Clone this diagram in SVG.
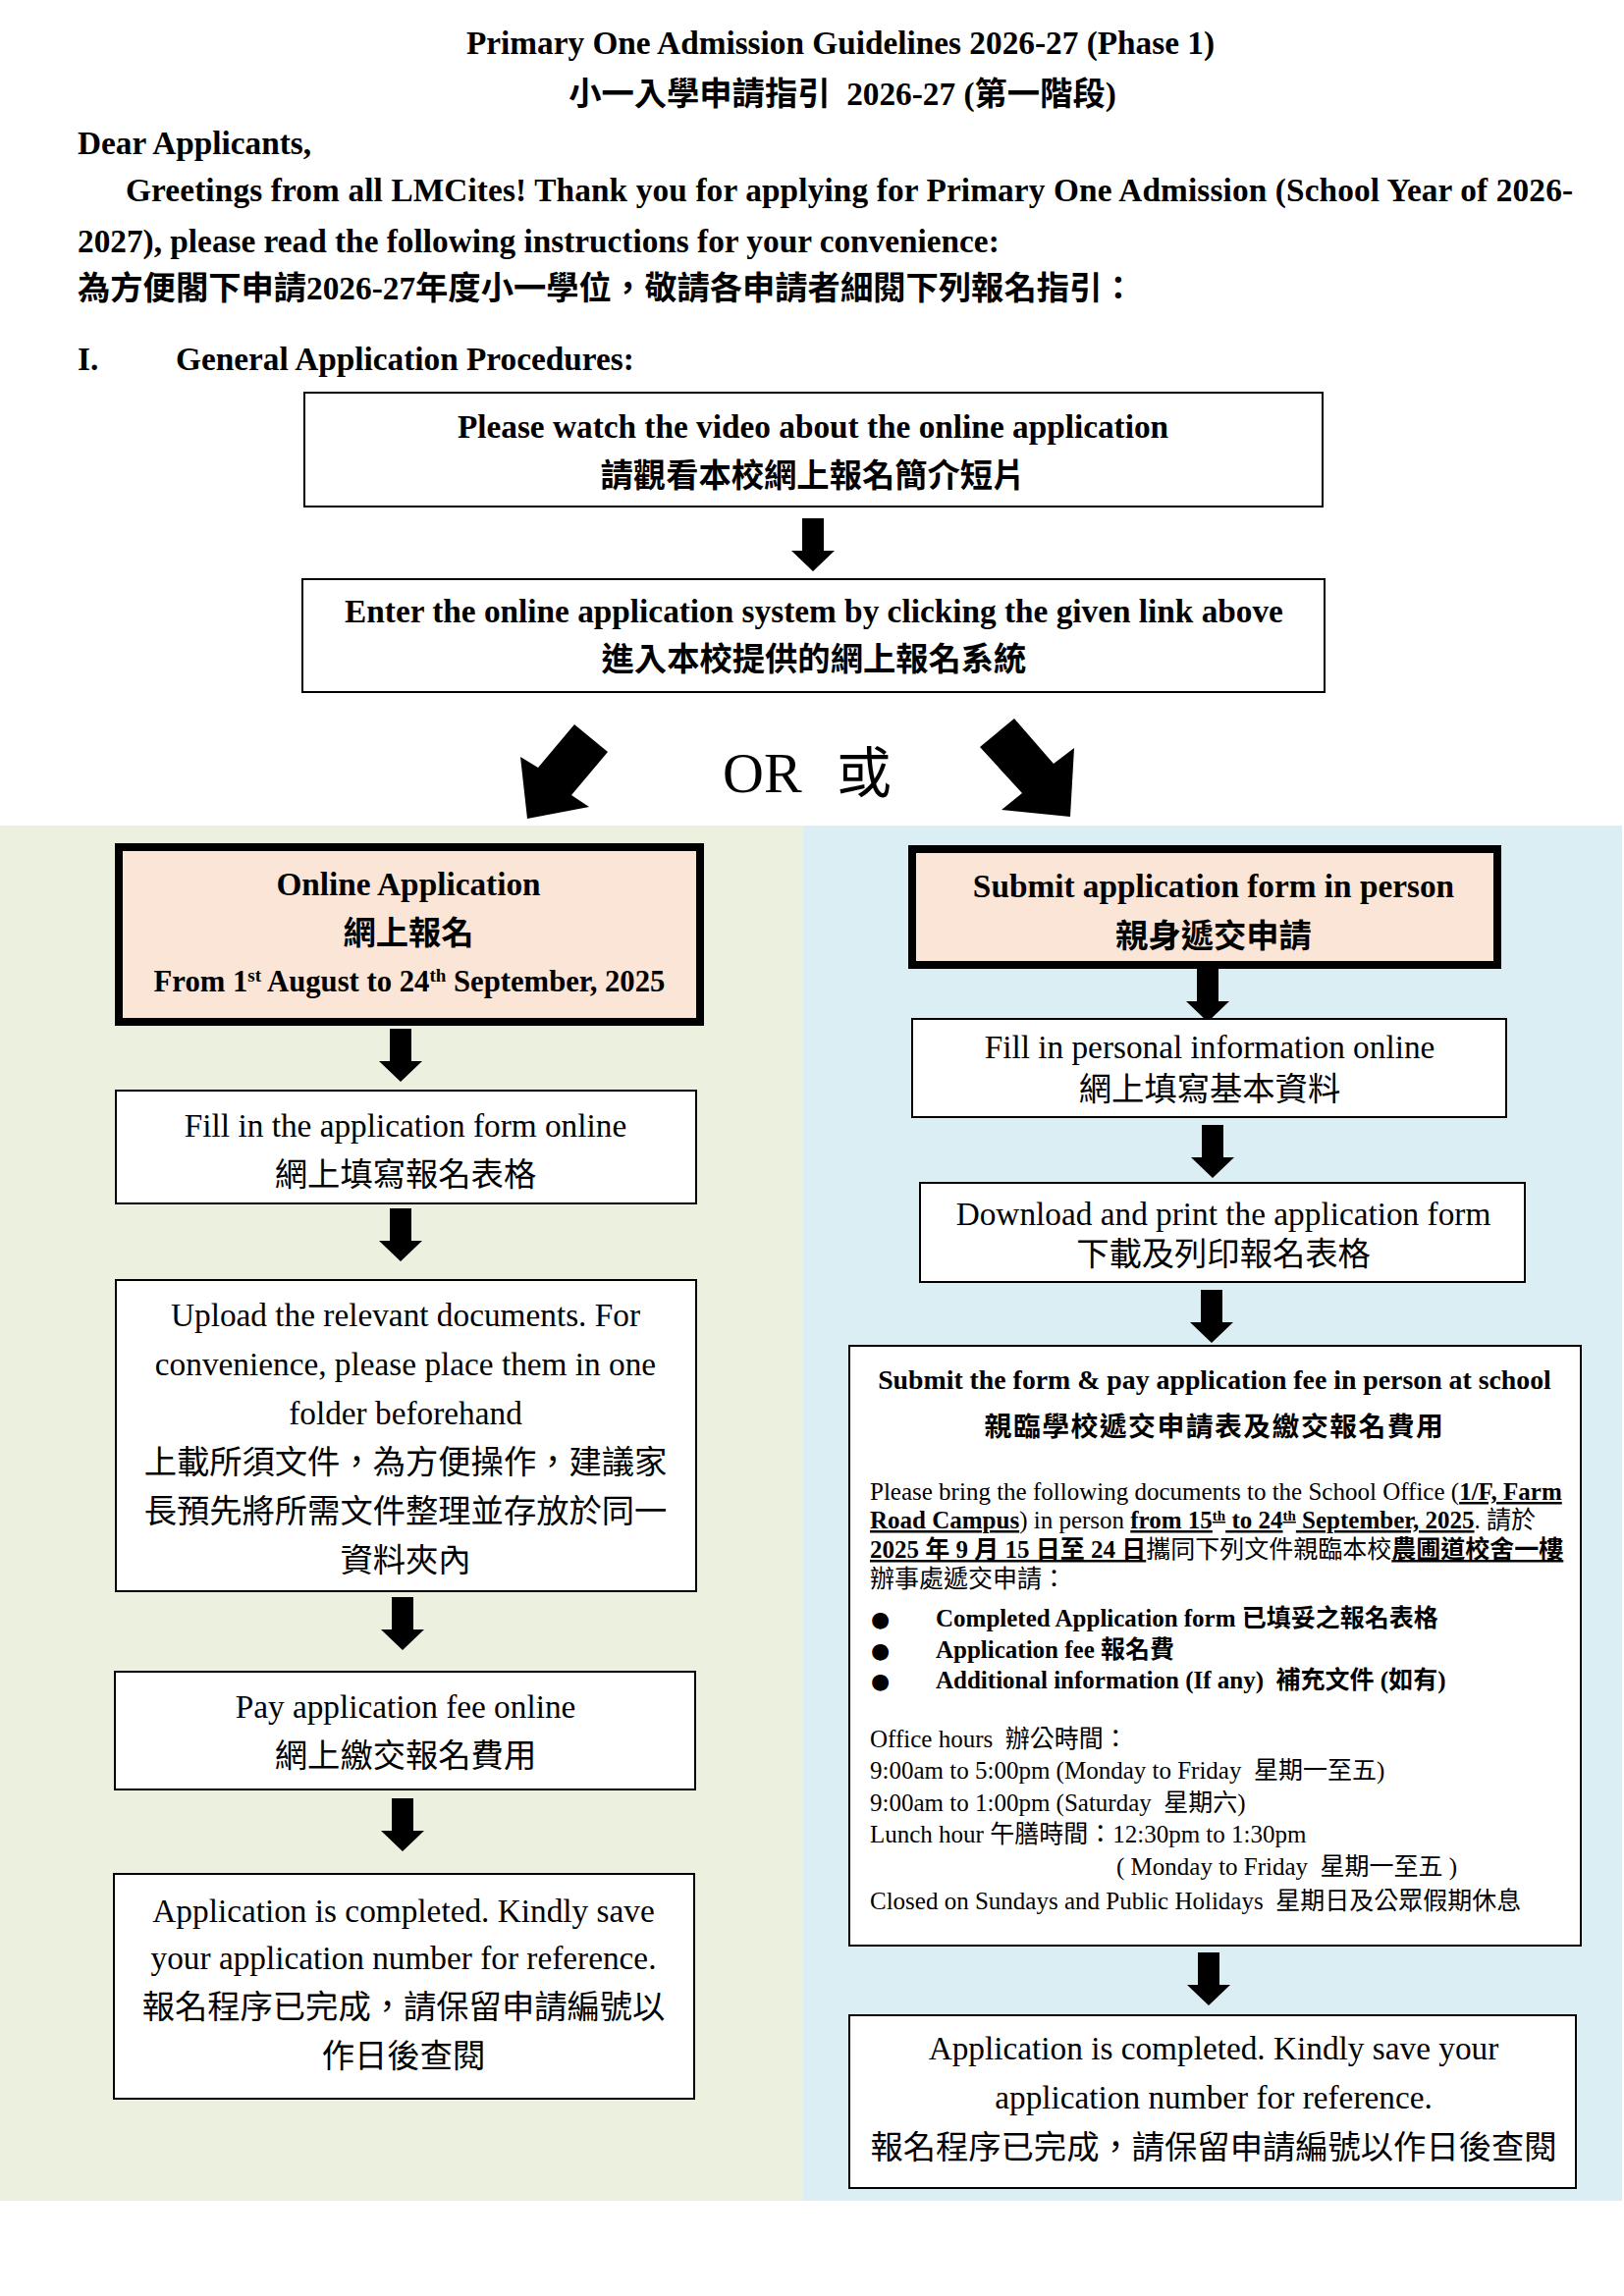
<svg xmlns="http://www.w3.org/2000/svg" width="1654" height="2339" viewBox="0 0 1654 2339">
<style>
text{font-family:"Liberation Serif","Noto Sans CJK TC",serif;fill:#000}
.b{font-weight:bold}
.f33{font-size:33.3px}
.f25{font-size:25px}
.c{text-anchor:middle}
.u{text-decoration:underline}
.bul{font-family:"DejaVu Sans",sans-serif;font-size:22px}
.box{fill:#fff;stroke:#000;stroke-width:2}
.hbox{fill:#FBE5D6;stroke:#000;stroke-width:8}
.arr{fill:#000}
</style>
<defs>
<path id="da" d="M-11,0 H11 V33 H22 L0,54 L-22,33 H-11 Z"/>
</defs>
<rect width="1654" height="2339" fill="#fff"/>
<g id="header">
<text class="b f33 c" x="856" y="55">Primary One Admission Guidelines 2026-27 (Phase 1)</text>
<text class="b f33 c" x="858" y="107" xml:space="preserve">小一入學申請指引  2026-27 (第一階段)</text>
<text class="b f33" x="79" y="157">Dear Applicants,</text>
<text class="b f33" x="128" y="205" textLength="1474" lengthAdjust="spacing">Greetings from all LMCites! Thank you for applying for Primary One Admission (School Year of 2026-</text>
<text class="b f33" x="79" y="257">2027), please read the following instructions for your convenience:</text>
<text class="b f33" x="79" y="305">為方便閣下申請2026-27年度小一學位，敬請各申請者細閱下列報名指引：</text>
<text class="b f33" x="79" y="377">I.</text>
<text class="b f33" x="179" y="377">General Application Procedures:</text>
</g>
<g id="panels">
<rect x="0" y="841" width="818" height="1401" fill="#EBF1DE"/>
<rect x="818" y="841" width="834" height="1401" fill="#DAEEF3"/>
</g>
<g id="connectors">
<use href="#da" class="arr" x="828" y="528"/>
<polygon class="arr" points="585,738 619,766 582,810 600,822 537,834 530,771 548,782"/>
<polygon class="arr" points="998,761 1033,732 1073,778 1094,762 1090,832 1020,825 1041,808"/>
<use href="#da" class="arr" x="408" y="1048"/>
<use href="#da" class="arr" x="408" y="1231"/>
<use href="#da" class="arr" x="410" y="1627"/>
<use href="#da" class="arr" x="410" y="1832"/>
<use href="#da" class="arr" x="1230" y="987"/>
<use href="#da" class="arr" x="1235" y="1146"/>
<use href="#da" class="arr" x="1234" y="1314"/>
<use href="#da" class="arr" x="1231" y="1989"/>
</g>
<g id="or-label">
<text x="736" y="807" style="font-size:58px">OR</text>
<text x="852" y="807" style="font-size:56px">或</text>
</g>
<g id="node-watch">
<rect class="box" x="310" y="400" width="1037" height="116"/>
<text class="b f33 c" x="828" y="446">Please watch the video about the online application</text>
<text class="b f33 c" x="828" y="496">請觀看本校網上報名簡介短片</text>
</g>
<g id="node-enter">
<rect class="box" x="308" y="590" width="1041" height="115"/>
<text class="b f33 c" x="829" y="634">Enter the online application system by clicking the given link above</text>
<text class="b f33 c" x="829" y="683">進入本校提供的網上報名系統</text>
</g>
<g id="node-online">
<rect class="hbox" x="121" y="863" width="592" height="178"/>
<text class="b f33 c" x="416" y="912">Online Application</text>
<text class="b f33 c" x="416" y="962">網上報名</text>
<text class="b c" x="417" y="1010" style="font-size:30.7px">From 1<tspan baseline-shift="super" style="font-size:19px">st</tspan> August to 24<tspan baseline-shift="super" style="font-size:19px">th</tspan> September, 2025</text>
</g>
<g id="node-fill-form">
<rect class="box" x="118" y="1111" width="591" height="115"/>
<text class="f33 c" x="413" y="1158">Fill in the application form online</text>
<text class="f33 c" x="413" y="1208">網上填寫報名表格</text>
</g>
<g id="node-upload">
<rect class="box" x="118" y="1304" width="591" height="317"/>
<text class="f33 c" x="413" y="1351">Upload the relevant documents. For</text>
<text class="f33 c" x="413" y="1401">convenience, please place them in one</text>
<text class="f33 c" x="413" y="1451">folder beforehand</text>
<text class="f33 c" x="413" y="1501">上載所須文件，為方便操作，建議家</text>
<text class="f33 c" x="413" y="1551">長預先將所需文件整理並存放於同一</text>
<text class="f33 c" x="413" y="1601">資料夾內</text>
</g>
<g id="node-pay">
<rect class="box" x="117" y="1703" width="591" height="120"/>
<text class="f33 c" x="413" y="1750">Pay application fee online</text>
<text class="f33 c" x="413" y="1800">網上繳交報名費用</text>
</g>
<g id="node-complete-online">
<rect class="box" x="116" y="1909" width="591" height="229"/>
<text class="f33 c" x="411" y="1958">Application is completed. Kindly save</text>
<text class="f33 c" x="411" y="2006">your application number for reference.</text>
<text class="f33 c" x="411" y="2056">報名程序已完成，請保留申請編號以</text>
<text class="f33 c" x="411" y="2106">作日後查閱</text>
</g>
<g id="node-inperson">
<rect class="hbox" x="929" y="865" width="596" height="118"/>
<text class="b f33 c" x="1236" y="914">Submit application form in person</text>
<text class="b f33 c" x="1236" y="965">親身遞交申請</text>
</g>
<g id="node-fill-personal">
<rect class="box" x="929" y="1038" width="605" height="100"/>
<text class="f33 c" x="1232" y="1078">Fill in personal information online</text>
<text class="f33 c" x="1232" y="1121">網上填寫基本資料</text>
</g>
<g id="node-download">
<rect class="box" x="937" y="1205" width="616" height="101"/>
<text class="f33 c" x="1246" y="1248">Download and print the application form</text>
<text class="f33 c" x="1246" y="1289">下載及列印報名表格</text>
</g>
<g id="node-submit-school">
<rect class="box" x="865" y="1371" width="745" height="611"/>
<text class="b c" x="1237" y="1415" style="font-size:27.8px">Submit the form &amp; pay application fee in person at school</text>
<text class="b c" x="1237" y="1463" style="font-size:27.8px;letter-spacing:1.5px">親臨學校遞交申請表及繳交報名費用</text>
<text class="f25" x="886" y="1528">Please bring the following documents to the School Office (<tspan class="b u">1/F, Farm</tspan></text>
<text class="f25" x="886" y="1557"><tspan class="b u">Road Campus</tspan>) in person <tspan class="b u">from 15<tspan baseline-shift="super" style="font-size:15px">th</tspan> to 24<tspan baseline-shift="super" style="font-size:15px">th</tspan> September, 2025</tspan>.  請於</text>
<text class="f25" x="886" y="1587"><tspan class="b u">2025 年 9 月 15 日至 24 日</tspan>攜同下列文件親臨本校<tspan class="b u">農圃道校舍一樓</tspan></text>
<text class="f25" x="886" y="1617">辦事處遞交申請：</text>
<text class="bul" x="887" y="1657">●</text>
<text class="b" x="953" y="1657" style="font-size:25px">Completed Application form 已填妥之報名表格</text>
<text class="bul" x="887" y="1689">●</text>
<text class="b" x="953" y="1689" style="font-size:25px">Application fee 報名費</text>
<text class="bul" x="887" y="1720">●</text>
<text class="b" x="953" y="1720" style="font-size:25px" xml:space="preserve">Additional information (If any)  補充文件 (如有)</text>
<text class="f25" x="886" y="1780" xml:space="preserve">Office hours  辦公時間：</text>
<text class="f25" x="886" y="1812" xml:space="preserve">9:00am to 5:00pm (Monday to Friday  星期一至五)</text>
<text class="f25" x="886" y="1845" xml:space="preserve">9:00am to 1:00pm (Saturday  星期六)</text>
<text class="f25" x="886" y="1877">Lunch hour 午膳時間：12:30pm to 1:30pm</text>
<text class="f25" x="1137" y="1910" xml:space="preserve">( Monday to Friday  星期一至五 )</text>
<text class="f25" x="886" y="1945" xml:space="preserve">Closed on Sundays and Public Holidays  星期日及公眾假期休息</text>
</g>
<g id="node-complete-inperson">
<rect class="box" x="865" y="2053" width="740" height="176"/>
<text class="f33 c" x="1236" y="2098">Application is completed. Kindly save your</text>
<text class="f33 c" x="1236" y="2148">application number for reference.</text>
<text class="f33 c" x="1236" y="2199">報名程序已完成，請保留申請編號以作日後查閱</text>
</g>
</svg>
